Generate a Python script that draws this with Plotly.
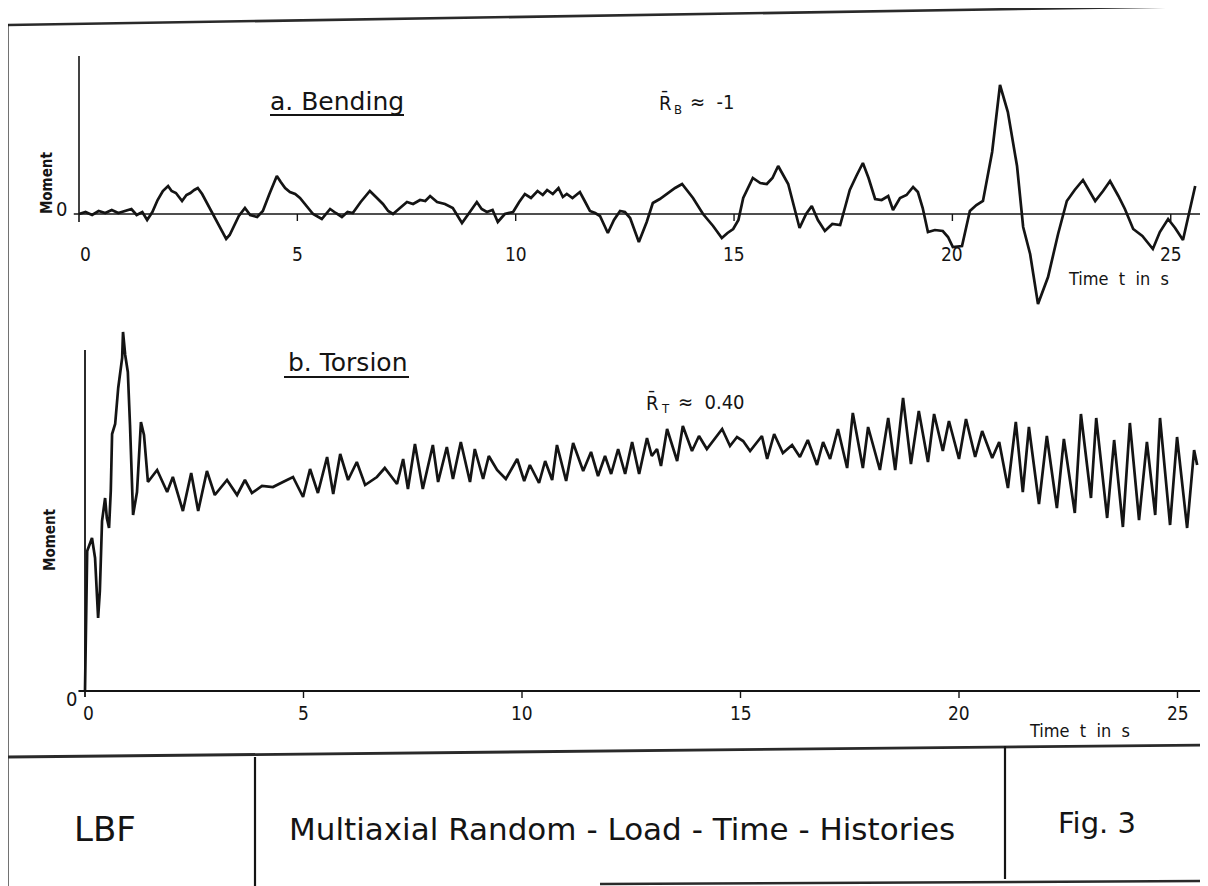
import plotly.graph_objects as go

# ---------------- data ----------------
# a. Bending moment (arbitrary units, 0 = mean line), time in s
BEND_T = [0.00, 0.15, 0.30, 0.45, 0.60, 0.75, 0.90, 1.05, 1.20, 1.32,
          1.45, 1.56, 1.68, 1.80, 1.92, 2.04, 2.12, 2.22, 2.36, 2.46,
          2.55, 2.64, 2.72, 2.82, 2.95, 3.07, 3.20, 3.37, 3.45, 3.53,
          3.66, 3.80, 3.92, 4.08, 4.21, 4.36, 4.53, 4.62, 4.72, 4.83,
          4.95, 5.06, 5.20, 5.36, 5.56, 5.75, 5.88, 6.02, 6.15, 6.27,
          6.45, 6.66, 6.80, 6.96, 7.08, 7.19, 7.35, 7.51, 7.65, 7.81,
          7.93, 8.04, 8.20, 8.38, 8.56, 8.77, 8.95, 9.11, 9.22, 9.34,
          9.47, 9.59, 9.75, 9.94, 10.08, 10.21, 10.35, 10.50, 10.62, 10.72,
          10.85, 10.98, 11.08, 11.17, 11.30, 11.47, 11.58, 11.70, 11.82, 11.93,
          12.11, 12.25, 12.39, 12.50, 12.62, 12.82, 13.00, 13.14, 13.30, 13.46,
          13.65, 13.81, 14.06, 14.29, 14.52, 14.72, 14.85, 14.98, 15.10, 15.21,
          15.32, 15.43, 15.60, 15.75, 15.88, 16.01, 16.24, 16.36, 16.50, 16.65,
          16.78, 16.92, 17.08, 17.25, 17.43, 17.55, 17.65, 17.80, 17.95, 18.08,
          18.23, 18.38, 18.53, 18.64, 18.80, 18.95, 19.10, 19.21, 19.32, 19.44,
          19.60, 19.78, 19.90, 20.01, 20.22, 20.40, 20.55, 20.70, 20.91, 21.09,
          21.27, 21.48, 21.62, 21.78, 21.96, 22.19, 22.42, 22.62, 22.80, 22.99,
          23.27, 23.45, 23.61, 23.80, 23.95, 24.14, 24.35, 24.59, 24.75, 24.94,
          25.10, 25.28, 25.56]
BEND_M = [0.0, 0.2, -0.1, 0.3, 0.1, 0.4, 0.1, 0.3, 0.5, -0.1,
          0.2, -0.6, 0.2, 1.4, 2.3, 2.8, 2.3, 2.1, 1.3, 1.9,
          2.1, 2.4, 2.6, 2.0, 0.9, 0.0, -1.2, -2.5, -2.1, -1.4,
          -0.2, 0.6, -0.1, -0.3, 0.3, 2.0, 3.8, 3.2, 2.6, 2.2,
          2.0, 1.6, 0.8, 0.0, -0.5, 0.5, 0.1, -0.3, 0.2, 0.1,
          1.2, 2.3, 1.7, 1.0, 0.3, 0.0, 0.6, 1.2, 1.0, 1.4,
          1.3, 1.8, 1.2, 1.0, 0.6, -0.9, 0.2, 1.2, 0.5, 0.2,
          0.4, -0.8, 0.0, 0.2, 1.2, 2.0, 1.6, 2.3, 1.9, 2.4,
          2.0, 2.6, 1.7, 2.0, 1.6, 2.2, 1.3, 0.3, 0.1, -0.2,
          -1.9, -0.6, 0.3, 0.2, -0.4, -2.8, -0.8, 1.1, 1.5, 2.0,
          2.6, 3.0, 1.6, 0.0, -1.2, -2.4, -1.9, -1.5, -0.6, 1.6,
          2.6, 3.6, 3.1, 3.0, 3.6, 4.8, 3.0, 1.0, -1.4, 0.0,
          0.8, -0.6, -1.7, -1.0, -1.1, 0.8, 2.4, 3.8, 5.1, 3.6,
          1.5, 1.4, 1.8, 0.4, 1.6, 1.9, 2.7, 2.2, 0.6, -1.8,
          -1.6, -1.7, -2.3, -3.3, -3.2, 0.3, 0.9, 1.3, 6.2, 12.9,
          10.2, 4.8, -1.3, -4.0, -9.0, -6.3, -2.0, 1.3, 2.4, 3.4,
          1.3, 2.3, 3.3, 1.8, 0.5, -1.5, -2.2, -3.5, -1.8, -0.5,
          -1.4, -2.6, 2.8]

# b. Torsion moment (arbitrary units, 0 = zero load), time in s
TORS_T = [0.00, 0.05, 0.16, 0.23, 0.30, 0.34, 0.39, 0.46, 0.50, 0.55,
          0.59, 0.62, 0.69, 0.76, 0.85, 0.87, 0.92, 0.98, 1.03, 1.10,
          1.19, 1.28, 1.35, 1.44, 1.65, 1.88, 2.01, 2.24, 2.43, 2.59,
          2.79, 2.97, 3.25, 3.48, 3.66, 3.82, 4.05, 4.30, 4.53, 4.76,
          4.99, 5.15, 5.33, 5.54, 5.68, 5.84, 6.02, 6.22, 6.41, 6.68,
          6.86, 7.14, 7.28, 7.39, 7.55, 7.73, 7.96, 8.08, 8.28, 8.42,
          8.60, 8.81, 8.92, 9.11, 9.24, 9.43, 9.63, 9.89, 10.05, 10.18,
          10.39, 10.53, 10.69, 10.80, 11.01, 11.17, 11.40, 11.58, 11.74, 11.90,
          12.04, 12.20, 12.36, 12.52, 12.68, 12.86, 12.97, 13.09, 13.18, 13.32,
          13.55, 13.68, 13.89, 14.05, 14.23, 14.58, 14.76, 14.92, 15.06, 15.22,
          15.49, 15.61, 15.77, 15.97, 16.18, 16.36, 16.54, 16.75, 16.89, 17.05,
          17.23, 17.44, 17.57, 17.80, 17.92, 18.19, 18.38, 18.54, 18.72, 18.90,
          19.08, 19.29, 19.43, 19.63, 19.77, 20.00, 20.16, 20.37, 20.53, 20.76,
          20.92, 21.12, 21.30, 21.46, 21.60, 21.83, 22.01, 22.24, 22.40, 22.65,
          22.79, 23.02, 23.14, 23.39, 23.55, 23.75, 23.91, 24.12, 24.30, 24.49,
          24.60, 24.83, 24.99, 25.22, 25.38, 25.45]
TORS_M = [0.0, 14.0, 15.3, 13.3, 7.3, 10.0, 17.0, 19.3, 17.3, 16.3,
          20.0, 25.7, 26.7, 30.3, 33.3, 35.9, 33.6, 31.9, 26.6, 17.6,
          19.9, 26.9, 25.6, 20.9, 22.1, 19.9, 21.4, 18.0, 21.8, 18.0,
          22.0, 19.6, 21.1, 19.6, 21.1, 19.8, 20.5, 20.4, 20.9, 21.4,
          19.4, 22.2, 19.8, 23.4, 19.7, 23.7, 21.1, 22.9, 20.6, 21.4,
          22.3, 20.7, 23.2, 20.2, 24.7, 20.2, 24.6, 20.9, 24.4, 21.2,
          24.9, 20.9, 24.2, 21.2, 23.5, 22.1, 21.2, 23.2, 21.0, 22.6,
          20.8, 23.0, 21.1, 24.6, 21.0, 24.8, 22.0, 23.9, 21.5, 23.5,
          21.7, 24.2, 21.7, 24.9, 21.7, 25.3, 23.5, 24.2, 22.5, 26.2,
          23.0, 26.5, 24.0, 25.5, 24.2, 26.2, 24.5, 25.4, 25.0, 24.0,
          25.5, 23.2, 25.7, 23.8, 24.6, 23.4, 25.1, 22.6, 24.9, 23.2,
          26.2, 22.3, 27.8, 22.3, 26.4, 22.1, 27.3, 22.1, 29.3, 22.7,
          28.0, 22.9, 27.7, 24.0, 27.0, 23.2, 27.2, 23.4, 26.0, 23.3,
          24.9, 20.3, 26.9, 19.9, 26.4, 18.7, 25.5, 18.3, 25.2, 17.8,
          27.7, 19.3, 27.3, 17.3, 25.1, 16.4, 26.8, 17.1, 24.9, 17.6,
          27.3, 16.6, 25.4, 16.3, 24.1, 22.6]

TICK_VALUES = [0, 5, 10, 15, 20, 25]
TICK_LABELS = ["0", "5", "10", "15", "20", "25"]

# ---------------- figure ----------------
# the page body has an 8 px margin, so the figure is 8 px smaller than the window
OFF = 8
W, H = 1200, 878
INK = "#141414"
FONT = "DejaVu Sans, sans-serif"
FONT_N = "DejaVu Sans Condensed, DejaVu Sans, sans-serif"


def px(x, y):
    """window pixel -> paper fraction"""
    return (x - OFF) / W, 1 - (y - OFF) / H


fig = go.Figure()
fig.add_trace(go.Scatter(x=BEND_T, y=BEND_M, mode="lines", xaxis="x", yaxis="y",
                         line=dict(color=INK, width=2.7), hoverinfo="skip", showlegend=False))
fig.add_trace(go.Scatter(x=TORS_T, y=TORS_M, mode="lines", xaxis="x2", yaxis="y2",
                         line=dict(color=INK, width=2.7), hoverinfo="skip", showlegend=False))

shapes = []


def dline(x0, y0, x1, y1, ax, w=1.6):
    shapes.append(dict(type="line", xref="x" + ax, yref="y" + ax, x0=x0, y0=y0, x1=x1, y1=y1,
                       line=dict(color=INK, width=w)))


def pline(a, b, w=2.6, color=INK):
    x0, y0 = px(*a)
    x1, y1 = px(*b)
    shapes.append(dict(type="line", xref="paper", yref="paper", x0=x0, y0=y0, x1=x1, y1=y1,
                       line=dict(color=color, width=w)))


# bending axes
dline(0, -0.8, 0, 15.8, "")
dline(-0.12, 0, 25.9, 0, "", 1.5)
for t in TICK_VALUES[1:]:
    dline(t, -0.7, t, 0, "", 1.4)
# torsion axes
dline(0, -0.6, 0, 34.1, "2", 1.8)
dline(-0.15, 0, 25.8, 0, "2", 1.8)
for t in TICK_VALUES[1:]:
    dline(t, -0.7, t, 0, "2", 1.4)

# frame and title block
pline((7, 25), (1210, 6), 2.6, "#2a2a2a")
pline((7, 24), (7, 888), 3.2)
pline((7, 757), (1210, 745), 2.8, "#2a2a2a")
pline((255, 757), (255, 888), 2.2)
pline((1005, 746), (1005, 879), 2.2)
pline((600, 884), (1210, 881), 2.4, "#2a2a2a")
# underlines of the panel titles
pline((270, 115), (404, 115), 2.0)
pline((284, 377), (409, 377), 2.0)

ann = []


def dtext(x, y, text, ax, size=16, family=FONT_N, weight="normal", **kw):
    d = dict(xref="x" + ax, yref="y" + ax, x=x, y=y, text=text, showarrow=False,
             font=dict(family=family, size=size, color=INK, weight=weight),
             xanchor="center", yanchor="middle")
    d.update(kw)
    ann.append(d)


def ptext(x, y, text, size=22, family=FONT, **kw):
    xp, yp = px(x, y)
    d = dict(xref="paper", yref="paper", x=xp, y=yp, text=text, showarrow=False,
             font=dict(family=family, size=size, color=INK), xanchor="center", yanchor="middle")
    d.update(kw)
    ann.append(d)


# bending texts
dtext(-0.39, 0.5, "0", "", 20)
for t, lab in zip(TICK_VALUES, TICK_LABELS):
    dtext(t + (0.15 if t == 0 else 0), -4.0, lab, "", 19)
dtext(23.8, -6.4, "Time  t  in  s", "", 18)
dtext(5.9, 11.3, "a. Bending", "", 25, FONT)
dtext(-0.73, 3.1, "Moment", "", 15, weight="bold", textangle=-90)
# mean-ratio label  R̄_B ≈ -1
ptext(657, 102, "R\u0304", 20, FONT_N, xanchor="left")
ptext(672, 109, "B", 13, FONT_N, xanchor="left")
ptext(688, 102, "\u2248  -1", 20, FONT_N, xanchor="left")

# torsion texts
dtext(-0.32, -0.8, "0", "2", 20)
for t, lab in zip(TICK_VALUES, TICK_LABELS):
    dtext(t + (0.07 if t == 0 else 0), -2.2, lab, "2", 19)
dtext(22.75, -3.9, "Time  t  in  s", "2", 18)
dtext(6.0, 32.9, "b. Torsion", "2", 25, FONT)
dtext(-0.8, 15.1, "Moment", "2", 15, weight="bold", textangle=-90)
# mean-ratio label  R̄_T ≈ 0.40
ptext(644, 402, "R\u0304", 20, FONT_N, xanchor="left")
ptext(659, 409, "T", 13, FONT_N, xanchor="left")
ptext(676, 402, "\u2248  0.40", 20, FONT_N, xanchor="left")

# title block texts
ptext(105, 829, "LBF", 34)
ptext(622, 829, "Multiaxial Random - Load - Time - Histories", 31)
ptext(1097, 823, "Fig. 3", 29)

fig.update_layout(
    width=W, height=H, margin=dict(l=0, r=0, t=0, b=0),
    paper_bgcolor="white", plot_bgcolor="rgba(0,0,0,0)",
    xaxis=dict(domain=[0, 1], range=[(OFF - 79) / 43.67, (OFF + W - 79) / 43.67],
               visible=False, anchor="y"),
    yaxis=dict(domain=[0, 1], range=[(214 - OFF - H) / 10, (214 - OFF) / 10],
               visible=False, anchor="x"),
    xaxis2=dict(domain=[0, 1], range=[(OFF - 85) / 43.7, (OFF + W - 85) / 43.7],
                visible=False, anchor="y2"),
    yaxis2=dict(domain=[0, 1], range=[(691 - OFF - H) / 10, (691 - OFF) / 10],
                visible=False, anchor="x2"),
    shapes=shapes, annotations=ann, showlegend=False,
)

fig.write_html("out.html")
